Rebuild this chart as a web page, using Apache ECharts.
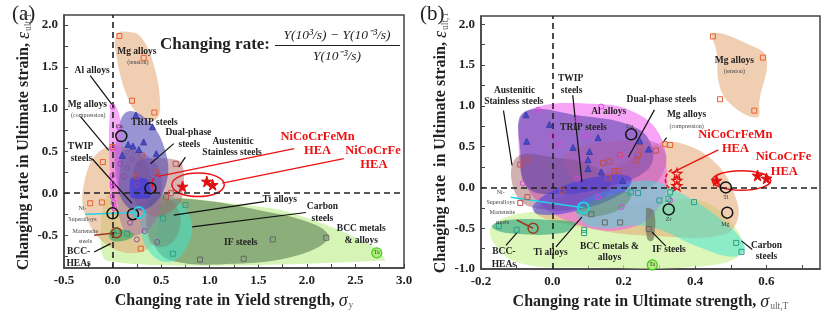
<!DOCTYPE html>
<html><head><meta charset="utf-8">
<script src="https://cdn.jsdelivr.net/npm/echarts@6/dist/echarts.min.js"></script>
<style>html,body{margin:0;padding:0;background:#fff}#c{width:840px;height:327px}</style>
</head><body><div id="c"></div>
<script>
const F = "'Liberation Serif','Times New Roman',serif";

// ---------- axis ticks ----------
const A_X_LABELS = [-0.5,0,0.5,1,1.5,2,2.5,3];
const A_X_TICKS = [-0.5,-0.25,0,0.25,0.5,0.75,1,1.25,1.5,1.75,2,2.25,2.5,2.75,3];
const A_Y_LABELS = [-0.5,0,0.5,1,1.5,2];
const A_Y_TICKS = [-0.75,-0.5,-0.25,0,0.25,0.5,0.75,1,1.25,1.5,1.75,2];
const B_X_LABELS = [-0.2,0,0.2,0.4,0.6];
const B_X_TICKS = [-0.2,-0.1,0,0.1,0.2,0.3,0.4,0.5,0.6,0.7];
const B_Y_LABELS = [-1,-0.5,0,0.5,1,1.5,2];
const B_Y_TICKS = [-1,-0.75,-0.5,-0.25,0,0.25,0.5,0.75,1,1.25,1.5,1.75,2];

// ---------- panel (a) regions (x: yield-strength rate, y: strain rate) ----------
const a_bcc = [[-0.06,-0.03],[0.5,-0.04],[0.84,-0.07],[1.73,-0.2],[2.25,-0.4],[2.69,-0.64],[2.8,-0.8],[-0.06,-0.8]];
const a_if = [[0.36,-0.28],[0.55,-0.1],[0.8,-0.07],[1.5,-0.2],[2.1,-0.38],[2.22,-0.54],[1.9,-0.74],[1.25,-0.84],[0.6,-0.8],[0.42,-0.6]];
const a_mgComp = [[-0.12,0.51],[-0.3,0.08],[-0.26,-0.32],[-0.02,-0.64],[0.29,-0.7],[0.46,-0.48],[0.39,0.24],[0.22,0.51]];
const a_mgTen = [[0.15,1.92],[0.29,1.86],[0.43,1.5],[0.49,1.03],[0.44,0.87],[0.29,0.91],[0.15,1.15],[0.03,1.7],[0.05,1.9]];
const a_carbon = [[0.49,0.0],[0.7,-0.12],[0.82,-0.4],[0.72,-0.72],[0.56,-0.82],[0.38,-0.7],[0.29,-0.4],[0.35,-0.12]];
const a_ti = [[0.45,-0.02],[0.62,-0.1],[0.7,-0.35],[0.6,-0.6],[0.42,-0.62],[0.35,-0.4],[0.37,-0.15]];
const a_aus = [[0.25,0.37],[0.7,0.37],[0.71,-0.08],[0.49,-0.28],[0.25,-0.16]];
const a_dual = [[0.1,0.5],[0.35,0.45],[0.5,0.2],[0.45,-0.3],[0.25,-0.5],[0.1,-0.4],[0.05,0.1]];
const a_trip = [[0.15,0.97],[0.36,0.87],[0.53,0.55],[0.56,0.15],[0.39,-0.16],[0.15,-0.16],[0.03,0.23],[0.05,0.71]];
const a_twip = [[0.19,0.18],[0.36,0.16],[0.39,-0.05],[0.19,-0.05]];
const a_al = [[-0.02,1.02],[0.05,1.0],[0.09,0.7],[0.07,0.2],[0.04,-0.2],[0.0,-0.22],[-0.03,0.3]];
const a_bccHea = [[-0.02,-0.44],[0.1,-0.43],[0.22,-0.5],[0.1,-0.57],[-0.02,-0.55]];
const a_heaEll = [[1.15,0.1],[1.07,0.2],[0.88,0.24],[0.69,0.2],[0.61,0.1],[0.69,0.0],[0.88,-0.04],[1.07,0.0]];
const a_heaArc = [[0.47,0.23],[0.42,0.17],[0.41,0.09],[0.44,0.02]];

// ---------- panel (a) points ----------
const a_mgPts = [[0.07,1.87],[0.32,1.61],[0.2,1.1],[0.43,0.96],[-0.1,0.37],[-0.23,-0.12],[-0.11,-0.11],[0.29,-0.66],[0.0,0.55]];
const a_ausPts = [[0.65,0.35],[0.45,0.25],[0.3,0.45],[0.25,0.2],[0.55,-0.05],[0.6,0.0]];
const a_alPts = [[0.0,1.03],[0.0,0.53],[0.0,0.21],[0.0,0.12],[0.0,0.08],[0.0,-0.04],[0.01,-0.11],[0.02,-0.18],[0.07,0.78]];
const a_tripPts = [[0.24,0.93],[0.41,0.79],[0.32,0.61],[0.16,0.58],[0.21,0.56],[0.45,0.47],[0.27,0.52],[0.1,0.45]];
const a_dualPts = [[0.08,0.35],[0.15,0.3],[0.2,0.4],[0.12,0.2],[0.25,0.1],[0.3,-0.1],[0.18,-0.35],[0.33,-0.45],[0.46,-0.58],[0.25,-0.55]];
const a_tealPts = [[0.75,-0.14],[0.62,-0.72],[0.52,-0.3],[0.15,-0.48],[0.05,-0.45]];
const a_ifPts = [[1.65,-0.55],[2.2,-0.53],[0.9,-0.79],[1.35,-0.78]];
const a_blackPts = [[0.0,-0.24],[0.21,-0.25],[0.39,0.06],[0.09,0.68]];
const a_cyanPts = [[0.27,-0.23]];
const a_martPts = [[0.04,-0.47]];
const a_taPts = [[2.72,-0.71]];
const a_starPts = [[0.72,0.08],[0.97,0.14],[1.03,0.1]];

// ---------- panel (a) annotations ----------
const a_lblBold = [[0.25,1.69,'Mg alloys'],[-0.21,1.46,'Al alloys'],[-0.26,1.06,'Mg alloys'],[0.43,0.84,'TRIP steels'],
  [0.78,0.72,'Dual-phase'],[0.79,0.58,'steels'],[1.24,0.62,'Austenitic'],[1.23,0.48,'Stainless steels'],
  [-0.33,0.55,'TWIP'],[-0.32,0.41,'steels'],[1.72,-0.08,'Ti alloys'],[2.16,-0.16,'Carbon'],[2.16,-0.3,'steels'],
  [2.56,-0.42,'BCC metals'],[2.56,-0.56,'& alloys'],[1.32,-0.59,'IF steels'],[-0.35,-0.7,'BCC-'],[-0.35,-0.84,'HEAs']];
const a_lblSmall = [[0.26,1.55,'(tension)'],[-0.25,0.92,'(compression)'],[-0.31,-0.18,'Ni-'],[-0.31,-0.31,'Superalloys'],
  [-0.28,-0.46,'Martensite'],[-0.28,-0.57,'steels']];
const a_lblRed = [[2.11,0.67,'NiCoCrFeMn'],[2.11,0.5,'HEA'],[2.68,0.5,'NiCoCrFe'],[2.69,0.34,'HEA']];
const a_lblTiny = [[2.72,-0.71,'Ta'],[0.07,0.8,'Cu']];
const a_leaders = [[-0.23,1.4,0.01,1.03],[-0.33,0.91,-0.04,0.51],[-0.21,0.41,0.2,-0.12],[0.63,0.59,0.39,0.35],
  [0.75,0.43,0.68,0.31],[1.56,-0.1,0.63,-0.26],[1.99,-0.23,0.82,-0.4],[-0.19,-0.7,-0.02,-0.6]];
const a_cyanLead = [[-0.28,-0.25,0.27,-0.23]];
const a_martLead = [[-0.19,-0.5,0.04,-0.47]];
const a_redLead = [[0.47,0.2,1.87,0.53],[1.13,0.12,2.38,0.41]];

// ---------- panel (b) regions (x: ultimate-strength rate) ----------
const b_bcc = [[-0.17,-0.48],[-0.09,-0.32],[0.18,-0.24],[0.41,-0.16],[0.51,-0.48],[0.53,-0.81],[0.41,-0.97],[0.09,-0.98],[-0.09,-0.93],[-0.163,-0.69]];
const b_mgComp = [[0.29,0.53],[0.37,0.53],[0.46,0.29],[0.51,-0.08],[0.52,-0.38],[0.48,-0.58],[0.3,-0.6],[0.1,-0.5],[-0.05,-0.3],[0.05,-0.05],[0.2,0.3]];
const b_mgTen = [[0.45,1.89],[0.55,1.75],[0.6,1.59],[0.58,1.06],[0.575,0.86],[0.51,0.98],[0.47,1.22],[0.46,1.67]];
const b_al = [[-0.07,0.94],[0.137,1.02],[0.24,0.9],[0.3,0.65],[0.32,0.25],[0.31,-0.16],[0.23,-0.48],[0.09,-0.48],[-0.06,-0.08],[-0.095,0.57]];
const b_aus = [[-0.1,0.37],[0.0,0.37],[0.12,0.25],[0.165,0.0],[0.09,-0.24],[-0.06,-0.24],[-0.11,0.0]];
const b_trip = [[-0.08,0.92],[0.074,0.88],[0.23,0.74],[0.28,0.49],[0.265,0.21],[0.147,0.0],[0.02,-0.08],[-0.07,0.0],[-0.09,0.45]];
const b_dual = [[0.037,0.41],[0.27,0.57],[0.32,0.37],[0.27,0.0],[0.09,0.0]];
const b_carbon = [[0.065,-0.24],[0.147,-0.04],[0.256,0.085],[0.33,0.0],[0.475,-0.4],[0.54,-0.73],[0.51,-0.85],[0.41,-0.73],[0.27,-0.48],[0.11,-0.48]];
const b_twip = [[-0.054,-0.22],[0.02,0.0],[0.147,0.146],[0.22,0.12],[0.2,-0.06],[0.074,-0.28],[-0.04,-0.33]];
const b_ti = [[0.065,-0.28],[0.147,-0.12],[0.22,-0.06],[0.2,-0.24],[0.11,-0.36]];
const b_bccHea = [[-0.17,-0.48],[-0.127,-0.4],[0.0,-0.4],[0.065,-0.44],[0.028,-0.56],[-0.127,-0.56]];
const b_if = [[0.265,-0.25],[0.285,-0.3],[0.285,-0.62],[0.275,-0.66],[0.265,-0.62],[0.262,-0.3]];
const b_heaEll = [[0.612,0.085],[0.588,0.17],[0.53,0.205],[0.472,0.17],[0.448,0.085],[0.472,0.0],[0.53,-0.035],[0.588,0.0]];
const b_heaArc = [[0.335,0.22],[0.32,0.15],[0.318,0.05],[0.33,-0.02]];

// ---------- panel (b) points ----------
const b_mgPts = [[0.45,1.85],[0.59,1.59],[0.47,1.08],[0.566,0.94],[0.315,0.53],[0.33,0.52]];
const b_ausPts = [[-0.09,0.28],[-0.07,0.34],[-0.07,-0.12],[0.245,0.49],[0.29,0.45],[0.24,0.4],[0.16,0.32],[0.142,0.3],
  [0.174,0.2],[0.186,0.2],[0.236,0.33],[0.156,0.12],[0.028,-0.04],[-0.09,-0.19],[0.19,0.4]];
const b_alPts = [[-0.04,0.95],[0.137,0.99],[0.07,0.83],[0.095,0.63],[0.0,0.63],[0.019,0.52],[-0.083,0.05],[0.194,0.39],
  [0.194,-0.24],[0.07,0.105],[0.128,-0.12],[0.33,-0.16]];
const b_tripPts = [[-0.074,0.89],[-0.008,0.77],[-0.072,0.565],[0.058,0.49],[0.104,0.44],[0.1,0.34],[0.128,0.61],
  [0.137,0.19],[0.1,0.23],[0.197,0.085],[0.27,0.47],[0.245,0.57]];
const b_tealPts = [[0.22,-0.06],[0.24,-0.07],[0.33,-0.06],[0.325,-0.14],[0.3,-0.16],[0.397,-0.18],[0.515,-0.68],
  [0.53,-0.79],[0.089,-0.52],[0.089,-0.56],[-0.1,-0.52],[-0.15,-0.475]];
const b_ifPts = [[0.109,-0.33],[0.147,-0.43],[0.27,-0.51],[0.19,-0.43]];
const b_blackPts = [[0.221,0.65],[0.486,0.0],[0.326,-0.27],[0.49,-0.31]];
const b_cyanPts = [[0.087,-0.25]];
const b_martPts = [[-0.054,-0.5]];
const b_taPts = [[0.28,-0.95]];
const b_starPts = [[0.46,0.085],[0.575,0.146],[0.6,0.11]];
const b_openStarPts = [[0.349,0.17],[0.349,0.085],[0.349,0.02]];

// ---------- panel (b) annotations ----------
const b_lblBold = [[0.51,1.56,'Mg alloys'],[0.051,1.33,'TWIP'],[0.054,1.19,'steels'],[-0.106,1.19,'Austenitic'],
  [-0.108,1.05,'Stainless steels'],[0.306,1.08,'Dual-phase steels'],[0.158,0.93,'Al alloys'],[0.087,0.73,'TRIP steels'],
  [0.376,0.89,'Mg alloys'],[-0.136,-0.79,'BCC-'],[-0.136,-0.94,'HEAs'],[-0.005,-0.8,'Ti alloys'],
  [0.16,-0.72,'BCC metals &'],[0.16,-0.86,'alloys'],[0.327,-0.756,'IF steels'],[0.6,-0.71,'Carbon'],[0.6,-0.85,'steels']];
const b_lblSmall = [[0.51,1.42,'(tension)'],[0.376,0.75,'(compression)'],[-0.145,-0.065,'Ni-'],[-0.145,-0.18,'Superalloys'],
  [-0.14,-0.31,'Martensite'],[-0.14,-0.435,'steels']];
const b_lblRed = [[0.513,0.64,'NiCoCrFeMn'],[0.513,0.47,'HEA'],[0.648,0.37,'NiCoCrFe'],[0.65,0.195,'HEA']];
const b_lblTiny = [[0.217,0.75,'Cu'],[0.486,-0.12,'Ti'],[0.326,-0.39,'Zr'],[0.485,-0.45,'Mg'],[0.28,-0.95,'Ta']];
const b_leaders = [[-0.137,0.94,-0.113,0.27],[0.057,1.13,0.083,0.065],[0.286,0.95,0.213,0.37],[0.32,0.61,0.31,0.55],
  [0.01,-0.73,0.083,-0.36],[-0.13,-0.71,-0.1,-0.56],[0.318,-0.72,0.279,-0.545],[0.56,-0.76,0.53,-0.655]];
const b_cyanLead = [[-0.117,-0.12,0.087,-0.25]];
const b_martLead = [[-0.1,-0.4,-0.054,-0.5]];
const b_redLead = [[0.34,0.19,0.465,0.46]];

// ---------- builders ----------
function poly(gi, pts, fill, sm) {
  return {type:'custom', xAxisIndex:gi, yAxisIndex:gi, clip:true, silent:true, z:2,
    data: pts, encode:{x:0, y:1},
    renderItem: (p, api) => p.dataIndex === 0 ? {type:'polygon',
      shape:{points: pts.map(q => api.coord(q)), smooth: sm == null ? 0.4 : sm},
      style:{fill: fill}} : null};
}
function outline(gi, pts, stroke, closed, dash) {
  return {type:'custom', xAxisIndex:gi, yAxisIndex:gi, clip:true, silent:true, z:4,
    data: pts, encode:{x:0, y:1},
    renderItem: (p, api) => p.dataIndex === 0 ? {type: closed ? 'polygon' : 'polyline',
      shape:{points: pts.map(q => api.coord(q)), smooth: 0.4},
      style:{fill: 'none', stroke: stroke, lineWidth: 1.5, lineDash: dash ? [4,2] : null}} : null};
}
function segs(gi, list, stroke, w) {
  return {type:'custom', xAxisIndex:gi, yAxisIndex:gi, clip:true, silent:true, z:4,
    data: list, encode:{x:[0,2], y:[1,3]},
    renderItem: (p, api) => {
      const s = api.coord([api.value(0), api.value(1)]), e = api.coord([api.value(2), api.value(3)]);
      return {type:'line', shape:{x1:s[0], y1:s[1], x2:e[0], y2:e[1]}, style:{stroke: stroke, lineWidth: w}};
    }};
}
function texts(gi, list, font, color) {
  return {type:'custom', xAxisIndex:gi, yAxisIndex:gi, clip:false, silent:true, z:8,
    data: list.map(t => [t[0], t[1]]), encode:{x:0, y:1},
    renderItem: (p, api) => {
      const c = api.coord([api.value(0), api.value(1)]);
      return {type:'text', x:c[0], y:c[1], style:{text: list[p.dataIndex][2], font: font, fill: color,
        align:'center', verticalAlign:'middle'}};
    }};
}
function pts(gi, list, symbol, size, stroke, fill, bw, extra) {
  return Object.assign({type:'scatter', xAxisIndex:gi, yAxisIndex:gi, silent:true, z:6, data:list,
    symbol: symbol, symbolSize: size,
    itemStyle:{color: fill, borderColor: stroke, borderWidth: bw == null ? 1 : bw, opacity:1}}, extra || {});
}
const STAR = 'path://M50,0 L61,35 L98,35 L68,57 L79,91 L50,70 L21,91 L32,57 L2,35 L39,35 Z';
const zeroLines = {silent:true, symbol:['none','none'], label:{show:false},
  lineStyle:{type:[6,4], color:'#222', width:1.6}, data:[{xAxis:0},{yAxis:0}]};

const TAN = 'rgba(228,165,115,0.55)';
function panelSeries(gi, R, P, L) {
  const s = [];
  R.forEach(r => s.push(poly(gi, r[0], r[1], r[2])));
  s.push(outline(gi, L.ell, '#ee1111', true, false));
  s.push(outline(gi, L.arc, '#ee1111', false, true));
  s.push(segs(gi, L.leaders, '#111', 1.2));
  s.push(segs(gi, L.cyanLead, '#22d3e6', 1.6));
  s.push(segs(gi, L.martLead, '#9b3b22', 1.6));
  s.push(segs(gi, L.redLead, '#ee1111', 1.3));
  s.push(pts(gi, P.mg, 'rect', 5, '#e8602c', 'rgba(0,0,0,0)', 1, {markLine: zeroLines}));
  s.push(pts(gi, P.aus, 'rect', 5, '#c0504d', 'rgba(0,0,0,0)'));
  s.push(pts(gi, P.al, 'circle', 5, '#e040e0', 'rgba(0,0,0,0)'));
  s.push(pts(gi, P.trip, 'triangle', 6, '#3b3bb0', '#4a4ac0'));
  if (P.dual) s.push(pts(gi, P.dual, 'circle', 5, '#8a4fa0', 'rgba(0,0,0,0)'));
  s.push(pts(gi, P.teal, 'rect', 5, '#2aa08a', 'rgba(0,0,0,0)'));
  s.push(pts(gi, P.ifp, 'rect', 5, '#666', 'rgba(0,0,0,0)'));
  s.push(pts(gi, P.black, 'circle', 11, '#111', 'rgba(0,0,0,0)', 1.5));
  s.push(pts(gi, P.cyan, 'circle', 11, '#22d3e6', 'rgba(0,0,0,0)', 1.8));
  s.push(pts(gi, P.mart, 'circle', 10, '#9b3b22', 'rgba(0,0,0,0)', 1.5));
  s.push(pts(gi, P.ta, 'circle', 10, '#44cc22', '#aef07a', 1.2));
  s.push(pts(gi, P.star, STAR, 11, '#e01010', '#e01010', 1));
  if (P.openStar) s.push(pts(gi, P.openStar, STAR, 10, '#e01010', 'rgba(255,255,255,0.3)', 1.2));
  s.push(texts(gi, L.bold, 'bold 9.5px ' + F, '#222'));
  s.push(texts(gi, L.small, '6px ' + F, '#444'));
  s.push(texts(gi, L.redLbl, 'bold 12.5px ' + F, '#ee1111'));
  s.push(texts(gi, L.tiny, '6px ' + F, '#333'));
  return s;
}

const series = [].concat(
  panelSeries(0,
    [[a_bcc,'rgba(196,240,150,0.7)',0.2],[a_if,'rgba(95,130,85,0.62)'],[a_mgComp,TAN],[a_mgTen,TAN],
     [a_carbon,'rgba(60,228,200,0.55)'],[a_ti,'rgba(115,140,115,0.5)'],[a_aus,'rgba(165,90,90,0.45)',0.25],
     [a_dual,'rgba(160,100,170,0.45)'],[a_trip,'rgba(70,60,175,0.55)'],[a_twip,'rgba(50,50,235,0.6)',0.2],
     [a_al,'rgba(240,100,240,0.55)'],[a_bccHea,'rgba(40,160,90,0.6)']],
    {mg:a_mgPts, aus:a_ausPts, al:a_alPts, trip:a_tripPts, dual:a_dualPts, teal:a_tealPts, ifp:a_ifPts,
     black:a_blackPts, cyan:a_cyanPts, mart:a_martPts, ta:a_taPts, star:a_starPts},
    {ell:a_heaEll, arc:a_heaArc, leaders:a_leaders, cyanLead:a_cyanLead, martLead:a_martLead, redLead:a_redLead,
     bold:a_lblBold, small:a_lblSmall, redLbl:a_lblRed, tiny:a_lblTiny}),
  panelSeries(1,
    [[b_bcc,'rgba(205,243,155,0.7)'],[b_mgComp,TAN],[b_mgTen,TAN],[b_al,'rgba(240,90,240,0.55)'],
     [b_aus,'rgba(150,80,80,0.45)'],[b_trip,'rgba(80,60,170,0.55)'],[b_dual,'rgba(170,90,160,0.4)'],
     [b_carbon,'rgba(60,225,210,0.5)'],[b_twip,'rgba(60,60,225,0.55)'],[b_ti,'rgba(90,140,100,0.5)'],
     [b_bccHea,'rgba(40,160,120,0.6)'],[b_if,'rgba(100,100,80,0.6)']],
    {mg:b_mgPts, aus:b_ausPts, al:b_alPts, trip:b_tripPts, teal:b_tealPts, ifp:b_ifPts,
     black:b_blackPts, cyan:b_cyanPts, mart:b_martPts, ta:b_taPts, star:b_starPts, openStar:b_openStarPts},
    {ell:b_heaEll, arc:b_heaArc, leaders:b_leaders, cyanLead:b_cyanLead, martLead:b_martLead, redLead:b_redLead,
     bold:b_lblBold, small:b_lblSmall, redLbl:b_lblRed, tiny:b_lblTiny})
);

// ---------- axes ----------
const AX_LINE = {show:true, onZero:false, lineStyle:{color:'#444', width:1.5}};
const LBL = {color:'#222', fontFamily:F, fontWeight:'bold', fontSize:13, formatter: v => Number(v).toFixed(1)};
function nameRich(mainTxt, sym, sub) {
  return {name: '{t|' + mainTxt + '}{g|' + sym + '}{s|' + sub + '}',
    nameTextStyle: {rich: {
      t:{fontFamily:F, fontWeight:'bold', fontSize:16, color:'#222'},
      g:{fontFamily:F, fontStyle:'italic', fontSize:18, color:'#222'},
      s:{fontFamily:F, fontSize:9.5, color:'#666', padding:[9,0,0,1]}}}};
}
function xAx(gi, min, max, labels, ticks, nm) {
  return Object.assign({gridIndex:gi, type:'value', min:min, max:max, axisLine:AX_LINE,
    axisTick:{inside:true, length:4, customValues:ticks, lineStyle:{color:'#444'}},
    axisLabel:Object.assign({margin:6, customValues:labels}, LBL), splitLine:{show:false},
    nameLocation:'middle', nameGap:20}, nm);
}
function yAx(gi, min, max, labels, ticks, gap, nm) {
  return Object.assign({gridIndex:gi, type:'value', min:min, max:max, axisLine:AX_LINE,
    axisTick:{inside:true, length:4, customValues:ticks, lineStyle:{color:'#444'}},
    axisLabel:Object.assign({margin:6, customValues:labels}, LBL), splitLine:{show:false},
    nameLocation:'middle', nameGap:gap}, nm);
}

const option = {
  animation:false,
  backgroundColor:'#fff',
  grid:[
    {left:64, top:15, width:340, height:253, show:true, borderColor:'#444', borderWidth:1.5, backgroundColor:'transparent'},
    {left:481, top:16, width:339, height:253, show:true, borderColor:'#444', borderWidth:1.5, backgroundColor:'transparent'}
  ],
  xAxis:[
    xAx(0, -0.5, 3.0, A_X_LABELS, A_X_TICKS, nameRich('Changing rate in Yield strength, ', 'σ', 'y')),
    xAx(1, -0.2, 0.75, B_X_LABELS, B_X_TICKS, nameRich('Changing rate in Ultimate strength, ', 'σ', 'ult,T'))
  ],
  yAxis:[
    yAx(0, -0.89, 2.12, A_Y_LABELS, A_Y_TICKS, 18, nameRich('Changing rate in Ultimate strain, ', 'ε', 'ult,T')),
    yAx(1, -1.0, 2.1, B_Y_LABELS, B_Y_TICKS, 19, nameRich('Changing rate  in Ultimate strain, ', 'ε', 'ult,T'))
  ],
  graphic:[
    {type:'text', left:12, top:4, style:{text:'(a)', font:'21px ' + F, fill:'#222'}},
    {type:'text', left:420, top:4, style:{text:'(b)', font:'21px ' + F, fill:'#222'}},
    {type:'text', x:215, y:45, style:{text:'Changing rate:', font:'bold 17px ' + F, fill:'#222', align:'center', verticalAlign:'middle'}},
    {type:'text', x:337, y:35, style:{text:'Y(10³/s) − Y(10⁻³/s)', font:'italic 13.5px ' + F, fill:'#222', align:'center', verticalAlign:'middle'}},
    {type:'line', shape:{x1:275, y1:45.5, x2:400, y2:45.5}, style:{stroke:'#222', lineWidth:1}},
    {type:'text', x:337, y:56, style:{text:'Y(10⁻³/s)', font:'italic 13.5px ' + F, fill:'#222', align:'center', verticalAlign:'middle'}}
  ],
  series: series
};
const chart = echarts.init(document.getElementById('c'), null, {renderer:'canvas'});
chart.setOption(option);
</script>
</body></html>
